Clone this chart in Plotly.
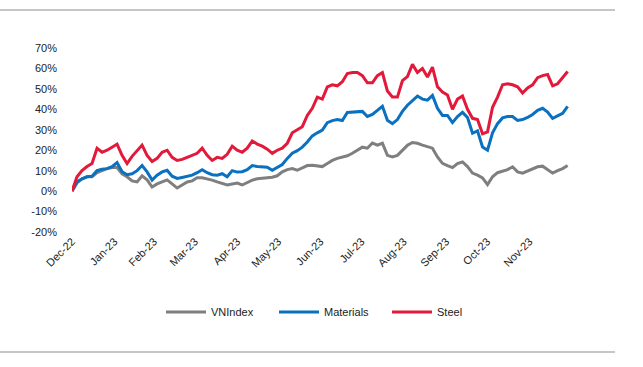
import pandas as pd
import plotly.graph_objects as go

# ---- data (percent return since 30-Dec-2022) ----
start_date = "2022-12-30"
end_date = "2023-12-28"

vnindex = [0, 4, 6, 7, 7, 9, 10, 11, 11.5, 11.5,
           8.5, 7, 5, 4.5, 7.5, 5.5, 2, 3.5, 4.5, 5.5,
           3.5, 1.5, 3, 4.5, 5, 6.5, 6.5, 6, 5.4, 4.5,
           3.8, 3, 3.5, 3.9, 3, 4, 5.4, 6, 6.3, 6.3,
           6.8, 7.5, 9.4, 10.5, 11, 10.2, 11.2, 12.5, 12.7, 12.5,
           12, 13.5, 15, 16, 16.7, 17.3, 18.5, 20, 21.5, 21,
           23.5, 22.5, 23.4, 17.5, 16.7, 17.5, 20, 22.4, 23.8, 23.4,
           22.5, 21.6, 21, 16.7, 13.6, 12.5, 11.5, 13.5, 14.3, 12,
           8.8, 7.8, 6.5, 3.2, 7, 9, 9.8, 10.5, 11.9, 9.4,
           8.8, 9.8, 11, 11.9, 12.2, 10.5, 8.8, 10, 11, 12.5]

materials = [0, 4.5, 6, 7, 7.3, 10, 10.7, 11, 12, 14,
             9.5, 8, 8.5, 10, 12.5, 9.4, 5.4, 7.8, 9.4, 10.2,
             7.3, 6.2, 6.7, 7.3, 7.8, 9, 10.5, 9, 8, 7.8,
             8.5, 7, 10, 9.3, 9.5, 10.5, 12.5, 12, 11.7, 11.7,
             10.2, 11.5, 13, 16, 18.5, 19.8, 21.5, 24, 27, 28.5,
             29.8, 33.5, 34.5, 35, 34.5, 38.5, 38.7, 39, 39, 36.5,
             37.5, 39.5, 41.5, 34.6, 33, 35, 39, 42, 44.4, 46.5,
             45, 44.5, 46.8, 40.5, 37, 37, 33.5, 36.5, 38.5, 36,
             28.3, 29.5, 21.6, 20, 28.5, 33, 35.8, 36.5, 36.5, 34.6,
             35, 36, 37.5, 39.5, 40.5, 38.7, 35.6, 37, 38, 41.5]

steel = [0, 7, 10, 12, 13.5, 21, 19, 20, 21.5, 23,
         17.5, 13.5, 17, 19.5, 22.5, 17.5, 14.5, 16, 19, 20,
         16.5, 15, 15.5, 16.5, 17.5, 18.5, 21, 17.5, 15, 16.5,
         16, 18, 22, 20, 19, 21, 24.5, 23, 22, 20.5,
         18.5, 20, 21, 23.4, 28.5, 30, 31.5, 37, 40.5, 46,
         45, 51, 52, 51.5, 53.5, 57.5, 58, 58, 56.5, 53,
         53, 56.5, 58, 49, 46, 46, 54, 56, 62, 58,
         60, 55.8, 60.6, 51, 48.5, 47, 40, 45, 46.5, 40,
         35.6, 35, 28, 29, 41, 46, 52, 52.5, 52, 51,
         48, 50.5, 52, 55.5, 56.5, 57, 51.5, 52.5, 55.5, 58.5]

series_names = ["VNIndex", "Materials", "Steel"]
series_colors = ["#7f7f7f", "#0a70c0", "#e3193b"]

tick_dates = ["2022-12-30", "2023-01-30", "2023-02-28", "2023-03-30", "2023-04-30",
              "2023-05-30", "2023-06-30", "2023-07-30", "2023-08-30", "2023-09-30",
              "2023-10-30", "2023-11-30"]
tick_labels = ["Dec-22", "Jan-23", "Feb-23", "Mar-23", "Apr-23", "May-23", "Jun-23",
               "Jul-23", "Aug-23", "Sep-23", "Oct-23", "Nov-23"]

y_ticks = [-20, -10, 0, 10, 20, 30, 40, 50, 60, 70]
y_labels = ["-20%", "-10%", "0%", "10%", "20%", "30%", "40%", "50%", "60%", "70%"]

dates = pd.date_range(start_date, end_date, periods=len(vnindex))
x_range = ["2022-12-30", "2023-12-29"]

FONT = "Liberation Sans Narrow, Arial Narrow, Liberation Sans, Arial, sans-serif"

fig = go.Figure()
for name, vals, col in zip(series_names, [vnindex, materials, steel], series_colors):
    fig.add_trace(go.Scatter(x=dates, y=vals, mode="lines", name=name,
                             line=dict(color=col, width=3)))

W, H = 643, 367
L, R, T, B = 72, 74, 48, 135
pw, ph = W - L - R, H - T - B

def px_x(p):
    return (p - L) / pw

def px_y(p):
    return (H - B - p) / ph

y_min, y_max = -20, 70
zero_pos = (0 - y_min) / (y_max - y_min)

fig.update_layout(
    width=W, height=H,
    margin=dict(l=L, r=R, t=T, b=B, autoexpand=False),
    paper_bgcolor="white", plot_bgcolor="white",
    font=dict(family=FONT, size=11, color="#222222"),
    showlegend=True,
    legend=dict(orientation="h", x=px_x(161), xanchor="left", y=px_y(312), yanchor="middle",
                font=dict(family=FONT, size=11, color="#222222"),
                entrywidth=58, entrywidthmode="pixels",
                itemwidth=40, bgcolor="rgba(0,0,0,0)"),
    xaxis=dict(type="date", range=x_range, tickvals=tick_dates, ticktext=tick_labels,
               tickangle=-45, showgrid=False, showline=False, zeroline=False, automargin=False,
               ticks="", tickfont=dict(family=FONT, size=11, color="#222222")),
    xaxis2=dict(type="date", range=x_range, overlaying="x", anchor="free", position=zero_pos,
                side="bottom", tickvals=tick_dates, showticklabels=False, showgrid=False,
                showline=True, linecolor="#d9d9d9", linewidth=1.5, automargin=False,
                ticks="outside", ticklen=4, tickcolor="#d9d9d9", tickwidth=1.5, zeroline=False),
    yaxis=dict(range=[y_min, y_max], tickvals=y_ticks, ticktext=y_labels, automargin=False,
               showgrid=False, zeroline=False, showline=False, ticks="",
               ticklabelstandoff=14, tickfont=dict(family=FONT, size=11, color="#222222")),
    shapes=[
        dict(type="line", xref="paper", yref="paper", x0=px_x(0), x1=px_x(615),
             y0=px_y(10), y1=px_y(10), line=dict(color="#c6c6c6", width=2)),
        dict(type="line", xref="paper", yref="paper", x0=px_x(0), x1=px_x(615),
             y0=px_y(352), y1=px_y(352), line=dict(color="#c6c6c6", width=2)),
    ],
)

fig.write_html("out.html", config={"displayModeBar": False},
               post_script="document.body.style.margin='0';")
